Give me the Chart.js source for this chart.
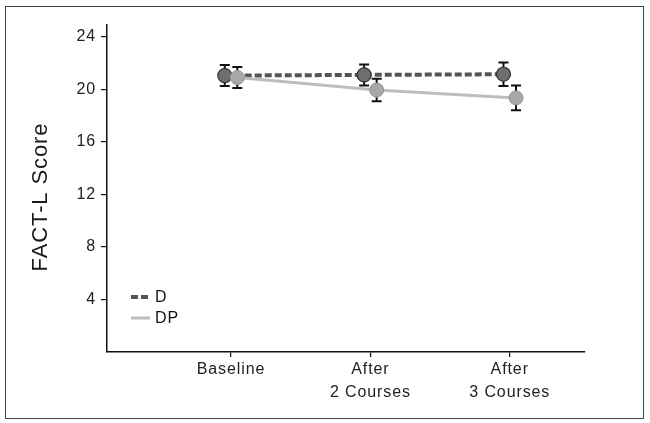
<!DOCTYPE html>
<html>
<head>
<meta charset="utf-8">
<script src="https://cdn.jsdelivr.net/npm/chart.js@4"></script>
<style>
  html, body { margin: 0; padding: 0; background: #fff; }
  #wrap { position: relative; width: 650px; height: 423px; }
  #marco { position: absolute; left: 5px; top: 6px; width: 637px; height: 411px; border: 1.5px solid #444; pointer-events: none; }
</style>
</head>
<body>
<div id="wrap">
  <canvas id="grafico" width="650" height="423"></canvas>
  <div id="marco"></div>
</div>
<script>
const categorias = ['Baseline', ['After', '2 Courses'], ['After', '3 Courses']];
const yTicks = [4, 8, 12, 16, 20, 24];
const tituloY = 'FACT-L Score';

const mediaD = [21.05, 21.1, 21.15];
const erroD = [0.8, 0.8, 0.9];
const mediaDP = [20.9, 19.95, 19.35];
const erroDP = [0.8, 0.85, 0.95];

const desloc = 0.045;
const fonte = '"Liberation Sans", Arial, sans-serif';

function pontos(medias, dx) {
  return medias.map((v, i) => ({ x: i + dx, y: v }));
}

// espaçamento das letras um pouco mais largo, como no original
const espacamento = {
  id: 'espacamento',
  beforeDraw(chart) { chart.ctx.letterSpacing = '0.9px'; }
};

// barras de erro atrás dos marcadores
const barrasErro = {
  id: 'barrasErro',
  beforeDatasetsDraw(chart) {
    const ctx = chart.ctx;
    const sy = chart.scales.y;
    ctx.save();
    ctx.strokeStyle = '#111';
    ctx.lineWidth = 2;
    chart.data.datasets.forEach((ds, di) => {
      const meta = chart.getDatasetMeta(di);
      meta.data.forEach((p, i) => {
        const v = ds.data[i].y;
        const e = ds.erros[i];
        const y1 = sy.getPixelForValue(v + e);
        const y2 = sy.getPixelForValue(v - e);
        ctx.beginPath();
        ctx.moveTo(p.x, y1); ctx.lineTo(p.x, y2);
        ctx.moveTo(p.x - 5, y1); ctx.lineTo(p.x + 5, y1);
        ctx.moveTo(p.x - 5, y2); ctx.lineTo(p.x + 5, y2);
        ctx.stroke();
      });
    });
    ctx.restore();
  }
};

// legenda dentro da área do gráfico + título do eixo y
const extras = {
  id: 'extras',
  afterDraw(chart) {
    const ctx = chart.ctx;
    const x0 = chart.chartArea.left + 24;
    let y = 297;
    ctx.save();
    chart.data.datasets.slice().reverse().forEach(ds => {
      ctx.strokeStyle = ds.borderColor;
      ctx.lineWidth = ds.borderWidth;
      ctx.setLineDash(ds.borderDash || []);
      ctx.beginPath();
      ctx.moveTo(x0, y); ctx.lineTo(x0 + 19, y);
      ctx.stroke();
      ctx.setLineDash([]);
      ctx.fillStyle = '#111';
      ctx.font = '16px ' + fonte;
      ctx.textBaseline = 'middle';
      ctx.fillText(ds.label, x0 + 24, y + 1);
      y += 21;
    });
    ctx.translate(41, 197);
    ctx.rotate(-Math.PI / 2);
    ctx.font = '22px ' + fonte;
    ctx.textAlign = 'center';
    ctx.fillStyle = '#1a1a1a';
    ctx.fillText(tituloY, 0, 0);
    ctx.restore();
  }
};

const config = {
  type: 'line',
  data: {
    datasets: [
      {
        label: 'DP',
        data: pontos(mediaDP, desloc),
        erros: erroDP,
        borderColor: '#bdbdbd',
        borderWidth: 3,
        pointRadius: 7,
        pointBackgroundColor: '#a8a8a8',
        pointBorderColor: '#959595',
        pointBorderWidth: 1,
        order: 0
      },
      {
        label: 'D',
        data: pontos(mediaD, -desloc),
        erros: erroD,
        borderColor: '#555',
        borderWidth: 4,
        borderDash: [7, 3],
        pointRadius: 7,
        pointBackgroundColor: '#6e6e6e',
        pointBorderColor: '#333',
        pointBorderWidth: 1.2,
        order: 1
      }
    ]
  },
  options: {
    responsive: false,
    animation: false,
    layout: { padding: { left: 0, top: 25, right: 65, bottom: 0 } },
    plugins: { legend: { display: false }, tooltip: { enabled: false } },
    scales: {
      x: {
        type: 'linear',
        min: -0.89,
        max: 2.54,
        afterBuildTicks: s => { s.ticks = categorias.map((c, i) => ({ value: i })); },
        afterFit: s => { s.height = 71; },
        ticks: {
          callback: v => categorias[v],
          color: '#222',
          font: { family: fonte, size: 16, lineHeight: 1.45 },
          padding: 1,
          maxRotation: 0,
          autoSkip: false
        },
        grid: { drawOnChartArea: false, color: '#111', tickLength: 5, lineWidth: 1.2 },
        border: { color: '#111', width: 1.5 }
      },
      y: {
        min: 0,
        max: 24.9,
        afterBuildTicks: s => { s.ticks = yTicks.map(v => ({ value: v })); },
        afterFit: s => { s.width = 107; },
        ticks: {
          color: '#222',
          font: { family: fonte, size: 16 },
          padding: 5
        },
        grid: { drawOnChartArea: false, color: '#111', tickLength: 6, lineWidth: 1.2 },
        border: { color: '#111', width: 1.5 }
      }
    }
  },
  plugins: [espacamento, barrasErro, extras]
};

new Chart(document.getElementById('grafico'), config);
</script>
</body>
</html>
